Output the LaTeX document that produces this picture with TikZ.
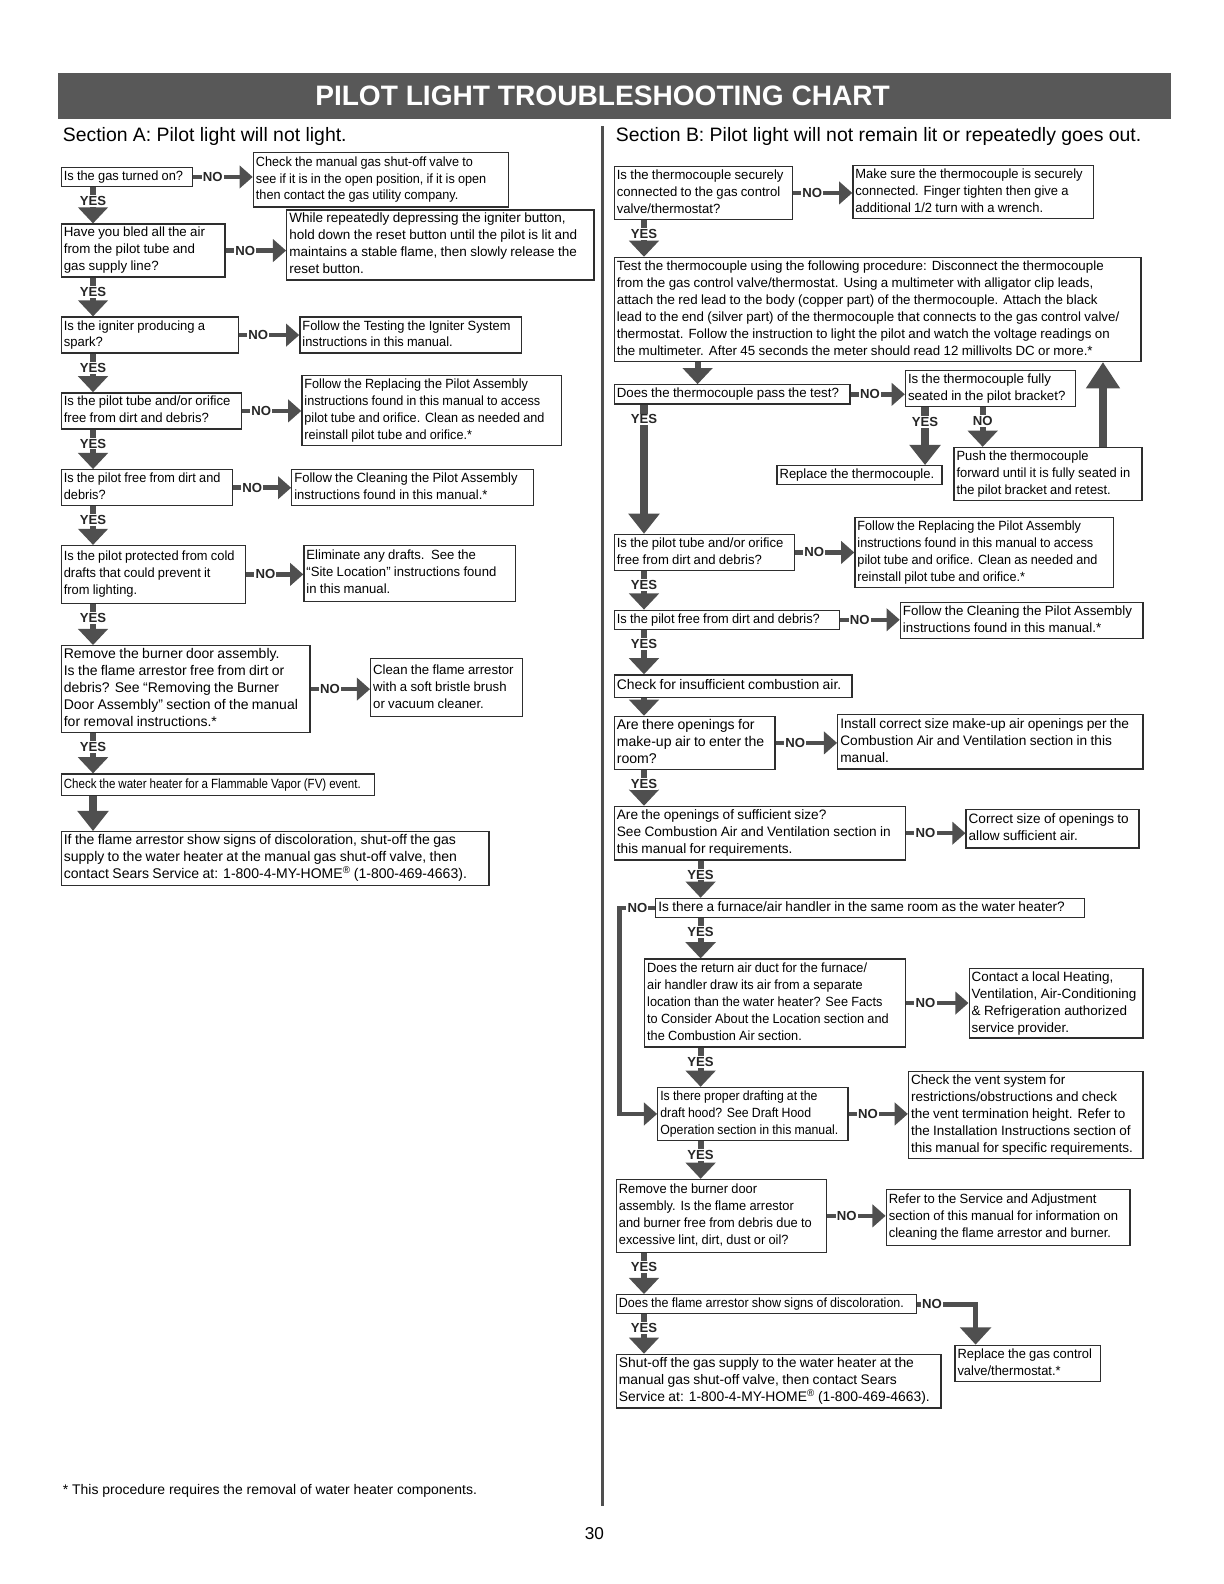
\documentclass[tikz,border=0pt]{standalone}
\usepackage{fontspec}
\setmainfont{Liberation Sans}
\usetikzlibrary{arrows.meta,calc}
\definecolor{ink}{HTML}{2E2E2E}
\definecolor{arr}{HTML}{4F4F4F}
\definecolor{bar}{HTML}{585858}
\newcommand\fslab{\fontsize{13}{13}\selectfont\bfseries}
\newlength\natw
\newcommand\fb[1]{\settowidth\natw{\fontsize{10}{12}\selectfont\begin{tabular}{@{}l@{}}#1\end{tabular}}%
  \pgfmathsetmacro\fsz{max(13.2,min(15.2,10*\fitw/\natw))}%
  \pgfmathsetmacro\hsc{min(1,10*\fitw/\natw/\fsz)}%
  \fontsize{\fsz}{16.8}\selectfont\scalebox{\hsc}[1]{\begin{tabular}{@{}l@{}}#1\end{tabular}}}
\tikzset{
 box/.style={draw=ink, line width=1.3pt, inner xsep=2.5pt, inner ysep=1pt, anchor=north west, align=left},
 sz/.code 2 args={\pgfmathsetmacro\tw{#1-5}\pgfmathsetmacro\fitw{#1-8}\edef\tmp{\noexpand\tikzset{text width=\tw pt}}\tmp\tikzset{minimum width=#1pt, minimum height=#2pt}},
 slack/.code={\pgfmathsetmacro\fitw{\tw-#1}},
 lab/.style={fill=white, font=\fslab, inner sep=1.2pt, text=black!85},
 nolink/.style={draw=arr, line width=4.5pt, -{Triangle[length=13pt,width=22pt]}},
 nodown/.style={draw=arr, line width=5pt, line join=miter, -{Triangle[length=17pt,width=30pt]}},
 yeslink/.style={draw=arr, line width=6pt, -{Triangle[length=16pt,width=29pt]}},
 biglink/.style={draw=arr, line width=8pt, -{Triangle[length=20pt,width=30pt]}},
 ylab/.style={pos=0, anchor=north, yshift=-5pt, lab},
 nlab/.style={pos=0, anchor=west, xshift=6pt, lab},
}
\begin{document}
\begin{tikzpicture}[x=1pt,y=-1pt]
\useasboundingbox (0,0) rectangle (1210.7,1566.8);
% title
\fill[bar] (57,72) rectangle (1158,118);
\node[font=\fontsize{27.8}{28}\selectfont\bfseries, text=white] (title) at (596,95) {PILOT LIGHT TROUBLESHOOTING CHART};
\draw[arr, line width=3pt] (596,125) -- (596,1490);
\node[anchor=base west, inner sep=0, font=\fontsize{19.2}{20}\selectfont] (secA) at (62,140) {Section A: Pilot light will not light.};
\node[anchor=base west, inner sep=0, font=\fontsize{19.2}{20}\selectfont] (secB) at (609,140) {Section B: Pilot light will not remain lit or repeatedly goes out.};

% ---------- Section A ----------
\coordinate (xa) at (92,0);
\node[box, sz={130}{17}] (a1) at (60,165) {\fb{Is the gas turned on?}};
\node[box, sz={252}{54}, slack=8] (a1no) at (250,150) {\fb{Check the manual gas shut-off valve to\\see if it is in the open position, if it is open\\then contact the gas utility company.}};
\node[box, sz={162}{52}, slack=12] (a2) at (60,221) {\fb{Have you bled all the air\\from the pilot tube and\\gas supply line?}};
\node[box, sz={304}{68}] (a2no) at (283,207) {\fb{While repeatedly depressing the igniter button,\\hold down the reset button until the pilot is lit and\\maintains a stable flame, then slowly release the\\reset button.}};
\node[box, sz={175}{34}, slack=26] (a3) at (60,313) {\fb{Is the igniter producing a\\spark?}};
\node[box, sz={219}{34}] (a3no) at (296,313) {\fb{Follow the Testing the Igniter System\\instructions in this manual.}};
\node[box, sz={178}{35}] (a4) at (60,388) {\fb{Is the pilot tube and/or orifice\\free from dirt and debris?}};
\node[box, sz={257}{69}, slack=7] (a4no) at (298,371) {\fb{Follow the Replacing the Pilot Assembly\\instructions found in this manual to access\\pilot tube and orifice. Clean as needed and\\reinstall pilot tube and orifice.*}};
\node[box, sz={169}{33}] (a5) at (60,464) {\fb{Is the pilot free from dirt and\\debris?}};
\node[box, sz={239}{34}, slack=8] (a5no) at (288,464) {\fb{Follow the Cleaning the Pilot Assembly\\instructions found in this manual.*}};
\node[box, sz={182}{57}] (a6) at (60,539) {\fb{Is the pilot protected from cold\\drafts that could prevent it\\from lighting.}};
\node[box, sz={209}{55}, slack=13] (a6no) at (300,539) {\fb{Eliminate any drafts.\ \ See the\\“Site Location” instructions found\\in this manual.}};
\node[box, sz={246}{85}] (a7) at (60,638) {\fb{Remove the burner door assembly.\\Is the flame arrestor free from dirt or\\debris? See “Removing the Burner\\Door Assembly” section of the manual\\for removal instructions.*}};
\node[box, sz={150}{57}] (a7no) at (366,651) {\fb{Clean the flame arrestor\\with a soft bristle brush\\or vacuum cleaner.}};
\node[box, sz={310}{21}] (a8) at (60,765) {\fb{Check the water heater for a Flammable Vapor (FV) event.}};
\node[box, sz={423}{53}, slack=12] (a9) at (60,822) {\fb{If the flame arrestor show signs of discoloration, shut-off the gas\\supply to the water heater at the manual gas shut-off valve, then\\contact Sears Service at: 1-800-4-MY-HOME\textsuperscript{®} (1-800-469-4663).}};

\foreach \s/\t in {a1/a2,a2/a3,a3/a4,a4/a5,a5/a6,a6/a7,a7/a8}
  \draw[yeslink] (\s.south -| xa) -- (\t.north -| xa) node[ylab]{YES};
\draw[biglink] (a8.south -| xa) -- (a9.north -| xa);
\foreach \s in {a1,a2,a3,a4,a5,a6,a7}
  \draw[nolink] (\s.east) -- (\s.east -| \s no.west) node[nlab]{NO};

% ---------- Section B ----------
\coordinate (xb) at (637,0);
\coordinate (xb2) at (690,0);
\coordinate (xb3) at (693,0);
\coordinate (xb4) at (915,0);
\coordinate (xb5) at (972,0);
\coordinate (xb6) at (1091,0);
\coordinate (xb7) at (965,0);
\coordinate (lpx) at (613,0);
\node[box, sz={176}{49}] (b1) at (607,164) {\fb{Is the thermocouple securely\\connected to the gas control\\valve/thermostat?}};
\node[box, sz={238}{50}] (b1no) at (843,163) {\fb{Make sure the thermocouple is securely\\connected. Finger tighten then give a\\additional 1/2 turn with a wrench.}};
\node[box, sz={521}{102}] (b2) at (607,254) {\fb{Test the thermocouple using the following procedure: Disconnect the thermocouple\\from the gas control valve/thermostat. Using a multimeter with alligator clip leads,\\attach the red lead to the body (copper part) of the thermocouple. Attach the black\\lead to the end (silver part) of the thermocouple that connects to the gas control valve/\\thermostat. Follow the instruction to light the pilot and watch the voltage readings on\\the multimeter. After 45 seconds the meter should read 12 millivolts DC or more.*}};
\node[box, sz={233}{17}] (b3) at (607,380) {\fb{Does the thermocouple pass the test?}};
\node[box, sz={168}{34}] (b4) at (895,366) {\fb{Is the thermocouple fully\\seated in the pilot bracket?}};
\node[box, sz={163}{18}] (b5) at (768,460) {\fb{Replace the thermocouple.}};
\node[box, sz={186}{52}] (b6) at (943,442) {\fb{Push the thermocouple\\forward until it is fully seated in\\the pilot bracket and retest.}};
\node[box, sz={178}{35}] (b7) at (607,528) {\fb{Is the pilot tube and/or orifice\\free from dirt and debris?}};
\node[box, sz={256}{69}, slack=6] (b7no) at (845,511) {\fb{Follow the Replacing the Pilot Assembly\\instructions found in this manual to access\\pilot tube and orifice. Clean as needed and\\reinstall pilot tube and orifice.*}};
\node[box, sz={223}{17}, slack=10] (b8) at (607,603) {\fb{Is the pilot free from dirt and debris?}};
\node[box, sz={240}{36}] (b8no) at (890,595) {\fb{Follow the Cleaning the Pilot Assembly\\instructions found in this manual.*}};
\node[box, sz={235}{22}] (b9) at (607,667) {\fb{Check for insufficient combustion air.}};
\node[box, sz={159}{52}] (b10) at (607,708) {\fb{Are there openings for\\make-up air to enter the\\room?}};
\node[box, sz={302}{54}] (b10no) at (828,706) {\fb{Install correct size make-up air openings per the\\Combustion Air and Ventilation section in this\\manual.}};
\node[box, sz={288}{53}, slack=5] (b11) at (607,797) {\fb{Are the openings of sufficient size?\\See Combustion Air and Ventilation section in\\this manual for requirements.}};
\node[box, sz={171}{38}] (b11no) at (955,800) {\fb{Correct size of openings to\\allow sufficient air.}};
\node[box, sz={424}{18}] (b12) at (648,888) {\fb{Is there a furnace/air handler in the same room as the water heater?}};
\node[box, sz={258}{87}, slack=8] (b13) at (637,948) {\fb{Does the return air duct for the furnace/\\air handler draw its air from a separate\\location than the water heater? See Facts\\to Consider About the Location section and\\the Combustion Air section.}};
\node[box, sz={172}{69}] (b13no) at (958,957) {\fb{Contact a local Heating,\\Ventilation, Air-Conditioning\\\& Refrigeration authorized\\service provider.}};
\node[box, sz={188}{50}] (b14) at (650,1075) {\fb{Is there proper drafting at the\\draft hood? See Draft Hood\\Operation section in this manual.}};
\node[box, sz={232}{84}] (b14no) at (898,1059) {\fb{Check the vent system for\\restrictions/obstructions and check\\the vent termination height. Refer to\\the Installation Instructions section of\\this manual for specific requirements.}};
\node[box, sz={208}{72}, slack=6] (b15) at (609,1166) {\fb{Remove the burner door\\assembly. Is the flame arrestor\\and burner free from debris due to\\excessive lint, dirt, dust or oil?}};
\node[box, sz={241}{55}] (b15no) at (876,1176) {\fb{Refer to the Service and Adjustment\\section of this manual for information on\\cleaning the flame arrestor and burner.}};
\node[box, sz={297}{18}] (b16) at (609,1280) {\fb{Does the flame arrestor show signs of discoloration.}};
\node[box, sz={144}{36}] (b16no) at (944,1330) {\fb{Replace the gas control\\valve/thermostat.*}};
\node[box, sz={321}{53}, slack=4] (b17) at (609,1339) {\fb{Shut-off the gas supply to the water heater at the\\manual gas shut-off valve, then contact Sears\\Service at: 1-800-4-MY-HOME\textsuperscript{®} (1-800-469-4663).}};

% yes connectors
\draw[yeslink] (b1.south -| xb) -- (b2.north -| xb) node[ylab]{YES};
\draw[yeslink] (b2.south -| xb2) -- (b3.north -| xb2);
\draw[biglink] (b3.south -| xb) -- (b7.north -| xb) node[ylab]{YES};
\draw[biglink] (b4.south -| xb4) -- (b5.north -| xb4) node[ylab]{YES};
\draw[yeslink] (b4.south -| xb5) -- (b6.north -| xb5) node[ylab]{NO};
\draw[biglink, -{Triangle[length=26pt,width=32pt]}] (b6.north -| xb6) -- (b2.south -| xb6);
\foreach \s/\t in {b7/b8,b8/b9,b10/b11,b15/b16,b16/b17}
  \draw[yeslink] (\s.south -| xb) -- (\t.north -| xb) node[ylab]{YES};
\draw[yeslink] (b9.south -| xb) -- (b10.north -| xb);
\foreach \s/\t in {b11/b12,b12/b13,b13/b14,b14/b15}
  \draw[yeslink] (\s.south -| xb3) -- (\t.north -| xb3) node[ylab]{YES};
% no connectors
\foreach \s in {b1,b7,b8,b10,b11,b13,b14,b15}
  \draw[nolink] (\s.east) -- (\s.east -| \s no.west) node[nlab]{NO};
\draw[nolink] (b3.east) -- (b3.east -| b4.west) node[nlab]{NO};
\draw[nolink, line join=miter] (b12.west) -- node[lab]{NO} (b12.west -| lpx) -- (b14.west -| lpx) -- (b14.west);
\draw[nodown] (b16.east) -- (b16.east -| xb7) node[pos=0, anchor=west, xshift=1pt, lab]{NO} -- (b16no.north -| xb7);

% footer
\node[anchor=west, inner sep=0, font=\fontsize{13.8}{14}\selectfont] (fn) at (62,1475) {* This procedure requires the removal of water heater components.};
\node[inner sep=0, font=\fontsize{17}{17}\selectfont] (pg) at (588,1517) {30};
\end{tikzpicture}
\end{document}
